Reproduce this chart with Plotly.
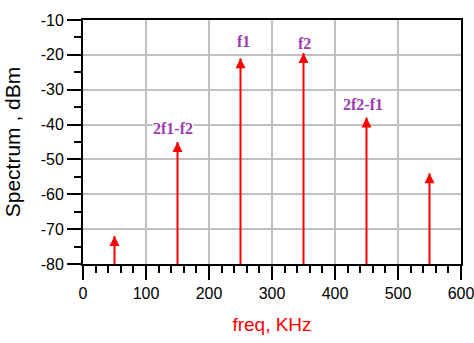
import plotly.graph_objects as go

# Data
freqs = [50, 150, 250, 350, 450, 550]          # kHz
levels = [-72, -45, -21, -19.5, -38, -54]       # dBm
label_text = ["2f1-f2", "f1", "f2", "2f2-f1"]
label_x = [143, 254, 351, 444]
label_y = [-41.0, -16.3, -16.6, -34.1]
x_ticks = [0, 100, 200, 300, 400, 500, 600]
y_ticks = [-80, -70, -60, -50, -40, -30, -20, -10]
floor_level = -80

fig = go.Figure()

# stems
sx, sy = [], []
for f, v in zip(freqs, levels):
    sx += [f, f, None]
    sy += [floor_level, v, None]
fig.add_trace(go.Scatter(x=sx, y=sy, mode="lines",
                         line=dict(color="#ff0000", width=2),
                         hoverinfo="skip", showlegend=False, cliponaxis=False))
# arrow heads
fig.add_trace(go.Scatter(x=freqs, y=levels, mode="markers",
                         marker=dict(symbol="arrow-up", size=10, color="#ff0000",
                                     line=dict(width=0)),
                         showlegend=False, cliponaxis=False))

for t, x, y in zip(label_text, label_x, label_y):
    fig.add_annotation(x=x, y=y, text=t, showarrow=False, bgcolor="white",
                       borderpad=0,
                       font=dict(family="Liberation Serif, Times New Roman, serif",
                                 size=16, color="#9c3cb0", weight="bold"))

axis_common = dict(
    showline=True, linecolor="black", linewidth=2, mirror=True,
    showgrid=True, gridcolor="#c0c0c0", gridwidth=2,
    ticks="outside", ticklen=14, tickwidth=2, tickcolor="black",
    tickfont=dict(family="Arial, Liberation Sans, sans-serif", size=16, color="black"),
    zeroline=False, ticklabeloverflow="allow", automargin=False,
)

fig.update_xaxes(range=[0, 600], tickvals=x_ticks, ticktext=[str(v) for v in x_ticks],
                 minor=dict(dtick=20, ticks="outside", ticklen=7, tickwidth=2,
                            tickcolor="black", showgrid=False),
                 title=dict(text="freq, KHz", standoff=16,
                            font=dict(family="Arial, Liberation Sans, sans-serif",
                                      size=19, color="#ff0000")),
                 **axis_common)
fig.update_yaxes(range=[-80, -10], tickvals=y_ticks, ticktext=[str(v) for v in y_ticks],
                 minor=dict(dtick=5, ticks="outside", ticklen=7, tickwidth=2,
                            tickcolor="black", showgrid=False),
                 title=dict(text="Spectrum , dBm", standoff=14,
                            font=dict(family="Arial, Liberation Sans, sans-serif",
                                      size=21, color="black")),
                 ticklabelstandoff=0,
                 **axis_common)

fig.update_layout(width=474, height=343,
                  margin=dict(l=83, r=13, t=20, b=79),
                  paper_bgcolor="white", plot_bgcolor="white")

fig.write_html("out.html")
